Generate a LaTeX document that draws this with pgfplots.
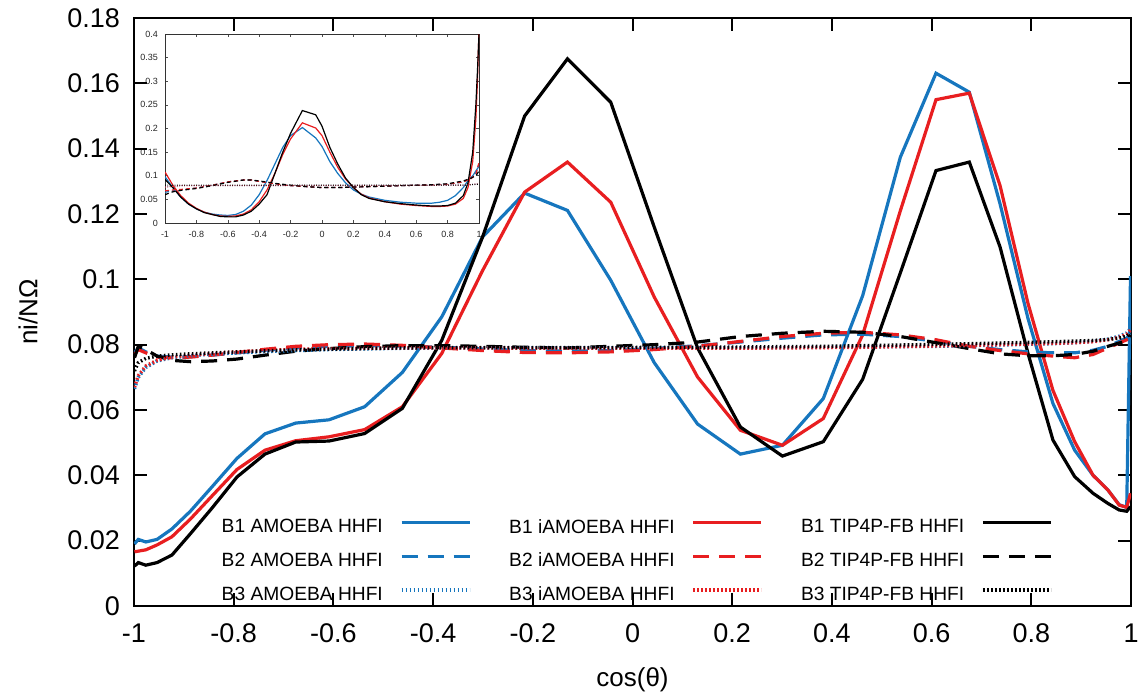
\documentclass[border=0pt]{standalone}
\usepackage{fontspec}
\setmainfont{Liberation Sans}
\usepackage{pgfplots}
\usepackage{pgfplotstable}
\pgfplotsset{compat=1.18}
\definecolor{cblue}{RGB}{22,118,190}
\definecolor{cred}{RGB}{232,30,32}

\pgfplotstableread{
x a i t
-0.9990 0.0190 0.0166 0.0122
-0.9914 0.0204 0.0168 0.0133
-0.9763 0.0196 0.0172 0.0125
-0.9537 0.0204 0.0187 0.0133
-0.9239 0.0236 0.0212 0.0156
-0.8870 0.0290 0.0266 0.0221
-0.8434 0.0365 0.0337 0.0300
-0.7934 0.0452 0.0418 0.0395
-0.7373 0.0527 0.0477 0.0465
-0.6756 0.0560 0.0506 0.0502
-0.6088 0.0570 0.0518 0.0505
-0.5373 0.0610 0.0540 0.0528
-0.4617 0.0715 0.0610 0.0605
-0.3827 0.0885 0.0773 0.0813
-0.3007 0.1130 0.1027 0.1130
-0.2164 0.1264 0.1267 0.1500
-0.1305 0.1211 0.1359 0.1675
-0.0436 0.0997 0.1236 0.1542
0.0436 0.0745 0.0946 0.1160
0.1305 0.0557 0.0701 0.0790
0.2164 0.0465 0.0538 0.0548
0.3007 0.0492 0.0492 0.0459
0.3827 0.0635 0.0574 0.0503
0.4617 0.0950 0.0830 0.0694
0.5373 0.1374 0.1210 0.1020
0.6088 0.1631 0.1550 0.1333
0.6756 0.1573 0.1570 0.1359
0.7373 0.1231 0.1287 0.1099
0.7934 0.0880 0.0926 0.0773
0.8434 0.0620 0.0660 0.0508
0.8870 0.0477 0.0503 0.0396
0.9239 0.0400 0.0400 0.0345
0.9537 0.0355 0.0355 0.0314
0.9763 0.0310 0.0309 0.0294
0.9914 0.0302 0.0302 0.0290
0.9990 0.1010 0.0345 0.0304
}\tabBone

\pgfplotstableread{
x a i t
-0.9990 0.0775 0.0770 0.0760
-0.9914 0.0790 0.0785 0.0795
-0.9763 0.0778 0.0775 0.0785
-0.9537 0.0765 0.0762 0.0765
-0.9239 0.0762 0.0760 0.0752
-0.8870 0.0763 0.0762 0.0748
-0.8434 0.0768 0.0768 0.0750
-0.7934 0.0775 0.0776 0.0756
-0.7373 0.0783 0.0786 0.0768
-0.6756 0.0790 0.0795 0.0780
-0.6088 0.0795 0.0800 0.0788
-0.5373 0.0797 0.0802 0.0794
-0.4617 0.0796 0.0798 0.0797
-0.3827 0.0792 0.0790 0.0797
-0.3007 0.0787 0.0782 0.0795
-0.2164 0.0782 0.0776 0.0792
-0.1305 0.0780 0.0775 0.0790
-0.0436 0.0782 0.0778 0.0795
0.0436 0.0788 0.0785 0.0800
0.1305 0.0797 0.0795 0.0808
0.2164 0.0808 0.0810 0.0825
0.3007 0.0820 0.0825 0.0835
0.3827 0.0830 0.0835 0.0841
0.4617 0.0832 0.0838 0.0838
0.5373 0.0825 0.0830 0.0825
0.6088 0.0810 0.0815 0.0806
0.6756 0.0795 0.0795 0.0788
0.7373 0.0785 0.0782 0.0772
0.7934 0.0778 0.0772 0.0766
0.8434 0.0775 0.0765 0.0766
0.8870 0.0775 0.0760 0.0770
0.9239 0.0783 0.0770 0.0780
0.9537 0.0795 0.0790 0.0795
0.9763 0.0810 0.0805 0.0805
0.9914 0.0820 0.0815 0.0810
0.9990 0.0835 0.0820 0.0830
}\tabBtwo

\pgfplotstableread{
x a i t
-0.9990 0.0665 0.0670 0.0720
-0.9914 0.0700 0.0705 0.0745
-0.9763 0.0730 0.0735 0.0758
-0.9537 0.0750 0.0752 0.0765
-0.9239 0.0760 0.0762 0.0769
-0.8870 0.0766 0.0768 0.0772
-0.8434 0.0771 0.0773 0.0775
-0.7934 0.0775 0.0778 0.0778
-0.7373 0.0779 0.0782 0.0781
-0.6756 0.0782 0.0786 0.0784
-0.6088 0.0785 0.0788 0.0786
-0.5373 0.0787 0.0789 0.0788
-0.4617 0.0789 0.0790 0.0790
-0.3827 0.0790 0.0790 0.0791
-0.3007 0.0790 0.0790 0.0791
-0.2164 0.0790 0.0789 0.0791
-0.1305 0.0790 0.0789 0.0791
-0.0436 0.0790 0.0789 0.0791
0.0436 0.0790 0.0789 0.0792
0.1305 0.0790 0.0789 0.0792
0.2164 0.0790 0.0789 0.0793
0.3007 0.0791 0.0790 0.0794
0.3827 0.0792 0.0791 0.0795
0.4617 0.0793 0.0792 0.0797
0.5373 0.0794 0.0794 0.0799
0.6088 0.0795 0.0796 0.0801
0.6756 0.0797 0.0798 0.0803
0.7373 0.0799 0.0800 0.0805
0.7934 0.0801 0.0802 0.0807
0.8434 0.0803 0.0804 0.0809
0.8870 0.0806 0.0806 0.0811
0.9239 0.0810 0.0809 0.0813
0.9537 0.0817 0.0815 0.0816
0.9763 0.0826 0.0823 0.0820
0.9914 0.0836 0.0832 0.0826
0.9990 0.0850 0.0845 0.0835
}\tabBthree

\pgfplotstableread{
x a i t
-1.00 0.098 0.108 0.092
-0.95 0.075 0.080 0.075
-0.90 0.055 0.058 0.055
-0.85 0.040 0.042 0.040
-0.80 0.030 0.031 0.030
-0.75 0.023 0.023 0.022
-0.70 0.019 0.018 0.018
-0.65 0.017 0.015 0.014
-0.60 0.016 0.014 0.013
-0.55 0.018 0.015 0.013
-0.50 0.025 0.019 0.017
-0.45 0.038 0.028 0.025
-0.40 0.060 0.045 0.040
-0.35 0.090 0.070 0.060
-0.30 0.125 0.105 0.105
-0.25 0.160 0.145 0.150
-0.20 0.185 0.178 0.190
-0.125 0.202 0.212 0.238
-0.04 0.180 0.201 0.229
0.00 0.162 0.185 0.205
0.05 0.130 0.150 0.160
0.10 0.105 0.118 0.125
0.15 0.085 0.093 0.095
0.20 0.070 0.075 0.075
0.25 0.061 0.061 0.060
0.30 0.055 0.053 0.052
0.40 0.048 0.045 0.045
0.50 0.044 0.040 0.041
0.60 0.042 0.037 0.038
0.70 0.042 0.035 0.036
0.75 0.044 0.035 0.036
0.80 0.048 0.036 0.037
0.85 0.058 0.040 0.042
0.90 0.075 0.052 0.058
0.93 0.090 0.075 0.085
0.96 0.100 0.130 0.150
0.98 0.110 0.220 0.250
0.99 0.115 0.300 0.320
1.00 0.120 0.410 0.400
}\tabIone

\pgfplotstableread{
x a i t
-1.00 0.065 0.068 0.060
-0.95 0.068 0.070 0.066
-0.90 0.070 0.071 0.069
-0.80 0.074 0.074 0.073
-0.70 0.080 0.080 0.079
-0.60 0.087 0.087 0.086
-0.50 0.091 0.091 0.091
-0.45 0.091 0.091 0.091
-0.40 0.088 0.088 0.089
-0.30 0.083 0.083 0.084
-0.20 0.079 0.079 0.080
-0.10 0.077 0.077 0.077
0.00 0.075 0.075 0.075
0.10 0.075 0.075 0.075
0.20 0.076 0.076 0.076
0.30 0.077 0.077 0.077
0.40 0.078 0.078 0.078
0.50 0.079 0.079 0.079
0.60 0.080 0.080 0.080
0.70 0.081 0.081 0.081
0.80 0.082 0.082 0.083
0.90 0.087 0.087 0.089
0.95 0.095 0.094 0.095
0.98 0.105 0.104 0.100
1.00 0.125 0.128 0.110
}\tabItwo

\pgfplotstableread{
x a i t
-1.00 0.076 0.076 0.080
-0.90 0.079 0.079 0.080
0.90 0.080 0.080 0.080
1.00 0.083 0.083 0.082
}\tabIthree

\begin{document}
\begin{tikzpicture}
\useasboundingbox (-67pt,-43.5pt) rectangle (504.5pt,303pt);
% inset
\begin{axis}[
  at={(15.5pt,191.5pt)}, anchor=south west,
  scale only axis, width=157pt, height=94.5pt,
  xmin=-1, xmax=1, ymin=0, ymax=0.4,
  axis background/.style={fill=white},
  xtick={-1,-0.8,-0.6,-0.4,-0.2,0,0.2,0.4,0.6,0.8,1},
  xticklabels={-1,-0.8,-0.6,-0.4,-0.2,0,0.2,0.4,0.6,0.8,1},
  ytick={0,0.05,0.1,0.15,0.2,0.25,0.3,0.35,0.4},
  yticklabels={0,0.05,0.1,0.15,0.2,0.25,0.3,0.35,0.4},
  tick align=inside, major tick length=1.5pt,
  tick style={line width=0.3pt, black!70},
  axis line style={line width=0.4pt, black!80},
  ticklabel style={font=\fontsize{4.5}{5}\selectfont, text=black!85},
  xticklabel style={yshift=-0.5pt},
]
\addplot[cblue, line width=0.6pt] table[x=x,y=a]{\tabIone};
\addplot[cred, line width=0.6pt] table[x=x,y=i]{\tabIone};
\addplot[black, line width=0.6pt] table[x=x,y=t]{\tabIone};
\addplot[cblue, line width=0.6pt, dash pattern=on 2pt off 1.5pt] table[x=x,y=a]{\tabItwo};
\addplot[cred, line width=0.6pt, dash pattern=on 2pt off 1.5pt] table[x=x,y=i]{\tabItwo};
\addplot[black, line width=0.6pt, dash pattern=on 2pt off 1.5pt] table[x=x,y=t]{\tabItwo};
\addplot[cblue, line width=0.5pt, dash pattern=on 0.4pt off 0.8pt] table[x=x,y=a]{\tabIthree};
\addplot[cred, line width=0.5pt, dash pattern=on 0.4pt off 0.8pt] table[x=x,y=i]{\tabIthree};
\addplot[black, line width=0.5pt, dash pattern=on 0.4pt off 0.8pt] table[x=x,y=t]{\tabIthree};
\end{axis}
% main
\begin{axis}[
  at={(0pt,0pt)}, anchor=south west,
  scale only axis, width=498.5pt, height=294pt,
  xmin=-1, xmax=1, ymin=0, ymax=0.18,
  xtick={-1,-0.8,-0.6,-0.4,-0.2,0,0.2,0.4,0.6,0.8,1},
  xticklabels={-1,-0.8,-0.6,-0.4,-0.2,0,0.2,0.4,0.6,0.8,1},
  ytick={0,0.02,0.04,0.06,0.08,0.1,0.12,0.14,0.16,0.18},
  yticklabels={0,0.02,0.04,0.06,0.08,0.1,0.12,0.14,0.16,0.18},
  tick align=inside, major tick length=6.5pt,
  tick style={line width=1pt, black},
  axis line style={line width=1.1pt},
  ticklabel style={font=\fontsize{13.5}{15}\selectfont},
  xticklabel style={yshift=-5.5pt},
  yticklabel style={xshift=-3.5pt},
  xlabel={cos(θ)}, ylabel={ni/NΩ},
  label style={font=\fontsize{13}{15}\selectfont},
  xlabel style={at={(axis description cs:0.5,-0.126)}, anchor=center},
  ylabel style={at={(axis description cs:-0.1063,0.5)}, anchor=center},
  legend columns=3,
  legend cell align=right,
  legend plot pos=right,
  legend image code/.code={\draw[#1] (0pt,2.5pt) -- (34pt,2.5pt);},
  legend style={draw=none, fill=none, at={(0.9218,0.004)}, anchor=south east,
    inner sep=0pt, row sep=8.3pt, font=\fontsize{9.6}{11}\selectfont,
    nodes={inner sep=0pt},
    /tikz/every odd column/.append style={column sep=8.5pt},
    /tikz/every even column/.append style={column sep=19pt}},
]
\addplot[cblue, line width=1.6pt] table[x=x,y=a]{\tabBone};
\addlegendentry{B1 AMOEBA HHFI}
\addplot[cred, line width=1.6pt] table[x=x,y=i]{\tabBone};
\addlegendentry{B1 iAMOEBA HHFI}
\addplot[black, line width=1.6pt] table[x=x,y=t]{\tabBone};
\addlegendentry{B1 TIP4P-FB HHFI}
\addplot[cblue, line width=1.6pt, dash pattern=on 8pt off 5pt] table[x=x,y=a]{\tabBtwo};
\addlegendentry{B2 AMOEBA HHFI}
\addplot[cred, line width=1.6pt, dash pattern=on 8pt off 5pt] table[x=x,y=i]{\tabBtwo};
\addlegendentry{B2 iAMOEBA HHFI}
\addplot[black, line width=1.6pt, dash pattern=on 8pt off 5pt] table[x=x,y=t]{\tabBtwo};
\addlegendentry{B2 TIP4P-FB HHFI}
\addplot[cblue, line width=1.7pt, dash pattern=on 0.8pt off 1.2pt] table[x=x,y=a]{\tabBthree};
\addlegendentry{B3 AMOEBA HHFI}
\addplot[cred, line width=1.7pt, dash pattern=on 0.8pt off 1.2pt] table[x=x,y=i]{\tabBthree};
\addlegendentry{B3 iAMOEBA HHFI}
\addplot[black, line width=1.7pt, dash pattern=on 0.8pt off 1.2pt] table[x=x,y=t]{\tabBthree};
\addlegendentry{B3 TIP4P-FB HHFI}
\end{axis}
\end{tikzpicture}
\end{document}
